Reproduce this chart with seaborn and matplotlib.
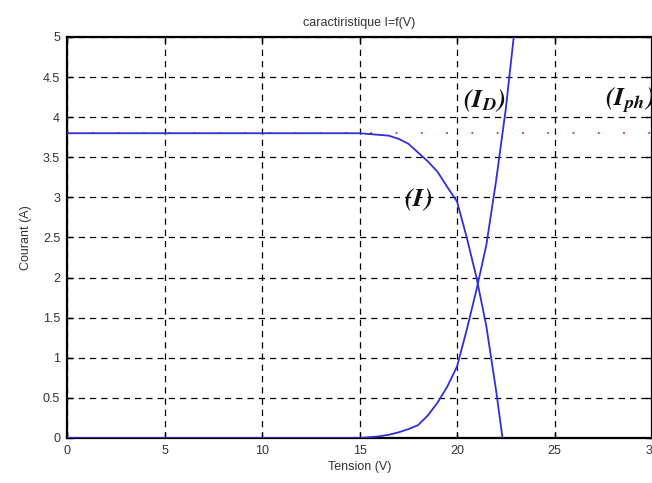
import numpy as np
import pandas as pd
import matplotlib
matplotlib.use("Agg")
import matplotlib.pyplot as plt
import seaborn as sns

# ---- data ----
v_I = [0, 5, 10, 14, 15, 15.5, 16, 16.5, 17, 17.5, 18, 18.5, 19, 19.5,
       20, 20.5, 21, 21.5, 22, 22.5]
i_I = [3.80, 3.80, 3.80, 3.80, 3.80, 3.79, 3.78, 3.77, 3.73, 3.67, 3.56, 3.45,
       3.32, 3.13, 2.95, 2.50, 2.00, 1.40, 0.60, -0.30]

v_D = [0, 5, 10, 14, 15, 15.5, 16, 16.5, 17, 17.5, 18, 18.5, 19, 19.5,
       20, 20.5, 21, 21.5, 22, 22.5, 23]
i_D = [0.0, 0.0, 0.0, 0.0, 0.0, 0.01, 0.02, 0.04, 0.07, 0.11, 0.16, 0.28,
       0.44, 0.64, 0.89, 1.35, 1.85, 2.40, 3.20, 4.10, 5.20]

v_ph = [0, 30]
i_ph = [3.80, 3.80]

x_ticks = [0, 5, 10, 15, 20, 25, 30]
y_ticks = [0, 0.5, 1, 1.5, 2, 2.5, 3, 3.5, 4, 4.5, 5]
y_ticklabels = ["0", "0.5", "1", "1.5", "2", "2.5", "3", "3.5", "4", "4.5", "5"]

title = "caractiristique I=f(V)"
xlabel = "Tension (V)"
ylabel = "Courant (A)"
labels = [r"$\mathbfit{(I_D)}$", r"$\mathbfit{(I)}$", r"$\mathbfit{(I_{ph})}$"]
label_pos = [(20.3, 4.2), (17.3, 2.97), (27.6, 4.2)]

sns.set_theme(style="white")
plt.rcParams["font.family"] = ["Liberation Sans", "DejaVu Sans"]
plt.rcParams["mathtext.fontset"] = "stix"

fig = plt.figure(figsize=(6.52, 4.83), dpi=100)
ax = fig.add_axes([0.1028, 0.0932, 0.8972, 0.8302])

df_I = pd.DataFrame({"V": v_I, "I": i_I})
df_D = pd.DataFrame({"V": v_D, "I": i_D})
df_ph = pd.DataFrame({"V": v_ph, "I": i_ph})

sns.lineplot(data=df_ph, x="V", y="I", ax=ax, color="#e03030", lw=1.3,
             linestyle=(0, (1, 13)), sort=False, zorder=2)
sns.lineplot(data=df_I, x="V", y="I", ax=ax, color="#2f2fd8", lw=1.3, sort=False, zorder=3)
sns.lineplot(data=df_D, x="V", y="I", ax=ax, color="#2f2fd8", lw=1.3, sort=False, zorder=3)

ax.set_xlim(0, 30)
ax.set_ylim(0, 5)
ax.set_xticks(x_ticks)
ax.set_yticks(y_ticks)
ax.set_yticklabels(y_ticklabels)

ax.grid(True, color="black", linestyle=(0, (5, 4)), linewidth=0.9)
ax.set_axisbelow(True)

for s in ax.spines.values():
    s.set_color("black")
    s.set_linewidth(1.6)

ax.tick_params(axis="both", direction="in", length=4, width=1, colors="black",
               labelcolor="#333333", labelsize=9, top=True, right=True,
               bottom=True, left=True, pad=5)

ax.set_title(title, fontsize=9, color="#333333", pad=8)
ax.set_xlabel(xlabel, fontsize=9, color="#333333", labelpad=3)
ax.set_ylabel(ylabel, fontsize=9, color="#333333", labelpad=8)

for txt, (x, y) in zip(labels, label_pos):
    ax.text(x, y, txt, fontsize=19, color="#111111", ha="left", va="center",
            clip_on=False, zorder=5)

fig.savefig("out.png", dpi=100, facecolor="white")
